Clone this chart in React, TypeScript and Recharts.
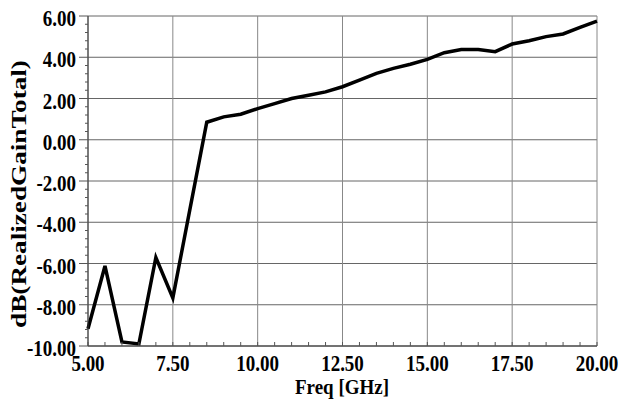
import { LineChart, Line, XAxis, YAxis, ReferenceLine } from 'recharts'

const freqs = [
  5, 5.5, 6, 6.5, 7, 7.5, 8, 8.5, 9, 9.5, 10, 10.5, 11, 11.5, 12, 12.5,
  13, 13.5, 14, 14.5, 15, 15.5, 16, 16.5, 17, 17.5, 18, 18.5, 19, 19.5, 20,
]
const gains = [
  -9.16, -6.12, -9.8, -9.9, -5.71, -7.67, -3.4, 0.85, 1.11, 1.24, 1.51, 1.75,
  2.0, 2.16, 2.32, 2.57, 2.89, 3.22, 3.46, 3.66, 3.9, 4.22, 4.38, 4.38, 4.27,
  4.64, 4.8, 5.0, 5.13, 5.45, 5.75,
]

const xMajor = [5, 7.5, 10, 12.5, 15, 17.5, 20]
const yMajor = [-10, -8, -6, -4, -2, 0, 2, 4, 6]

// minor ticks: 0.5 GHz on x, 0.4 dB on y
const xTicks = Array.from({ length: 31 }, (_, i) => 5 + i * 0.5)
const yTicks = Array.from({ length: 41 }, (_, i) => Math.round((-10 + i * 0.4) * 10) / 10)

const data = freqs.map((f, i) => ({ freq: f, gain: gains[i] }))

const FONT = '"Liberation Serif", "Times New Roman", serif'
const isMajor = (list: number[], v: number) => list.some((m) => Math.abs(m - v) < 1e-6)

function XTick({ x, y, payload }: any) {
  const v = payload.value
  const major = isMajor(xMajor, v)
  return (
    <g>
      <line x1={x} x2={x} y1={y} y2={y - 4} stroke="#555" />
      {major && (
        <text
          transform={`translate(${x},${y + 25}) scale(1,1.25)`}
          textAnchor="middle"
          fontFamily={FONT}
          fontWeight="bold"
          fontSize={19}
          fill="#000"
        >
          {v.toFixed(2)}
        </text>
      )}
    </g>
  )
}

function YTick({ x, y, payload }: any) {
  const v = payload.value
  const major = isMajor(yMajor, v)
  return (
    <g>
      <line x1={x - (major ? 9 : 3)} x2={x} y1={y} y2={y} stroke="#555" />
      {major && (
        <text
          transform={`translate(${x - 12},${y + 10}) scale(1,1.25)`}
          textAnchor="end"
          fontFamily={FONT}
          fontWeight="bold"
          fontSize={19}
          fill="#000"
        >
          {v.toFixed(2)}
        </text>
      )}
    </g>
  )
}

export default function App() {
  return (
    <div style={{ position: 'absolute', left: 0, top: 0, background: '#fff' }}>
      <LineChart
        width={636}
        height={400}
        data={data}
        margin={{ top: 16, right: 39, left: 0, bottom: 0 }}
      >
        {yMajor.map((v) => (
          <ReferenceLine key={'h' + v} y={v} stroke="#666" strokeWidth={1} />
        ))}
        {xMajor.map((v) => (
          <ReferenceLine key={'v' + v} x={v} stroke="#888" strokeWidth={1} />
        ))}
        <XAxis
          dataKey="freq"
          type="number"
          domain={[5, 20]}
          ticks={xTicks}
          interval={0}
          tickSize={0}
          tickMargin={0}
          tickLine={false}
          height={54}
          axisLine={{ stroke: '#333' }}
          tick={<XTick />}
          label={{
            content: () => (
              <text
                transform="translate(342,394) scale(1,1.15)"
                textAnchor="middle"
                fontFamily={FONT}
                fontWeight="bold"
                fontSize={19}
                fill="#000"
              >
                Freq [GHz]
              </text>
            ),
          }}
        />
        <YAxis
          type="number"
          domain={[-10, 6]}
          ticks={yTicks}
          interval={0}
          tickSize={0}
          tickMargin={0}
          tickLine={false}
          width={88}
          axisLine={{ stroke: '#333' }}
          tick={<YTick />}
          label={{
            content: () => (
              <text
                transform="translate(26,194) rotate(-90) scale(1.36,1)"
                textAnchor="middle"
                fontFamily={FONT}
                fontWeight="bold"
                fontSize={20}
                fill="#000"
              >
                dB(RealizedGainTotal)
              </text>
            ),
          }}
        />
        <Line
          type="linear"
          dataKey="gain"
          stroke="#000"
          strokeWidth={3.5}
          dot={false}
          isAnimationActive={false}
        />
      </LineChart>
    </div>
  )
}
